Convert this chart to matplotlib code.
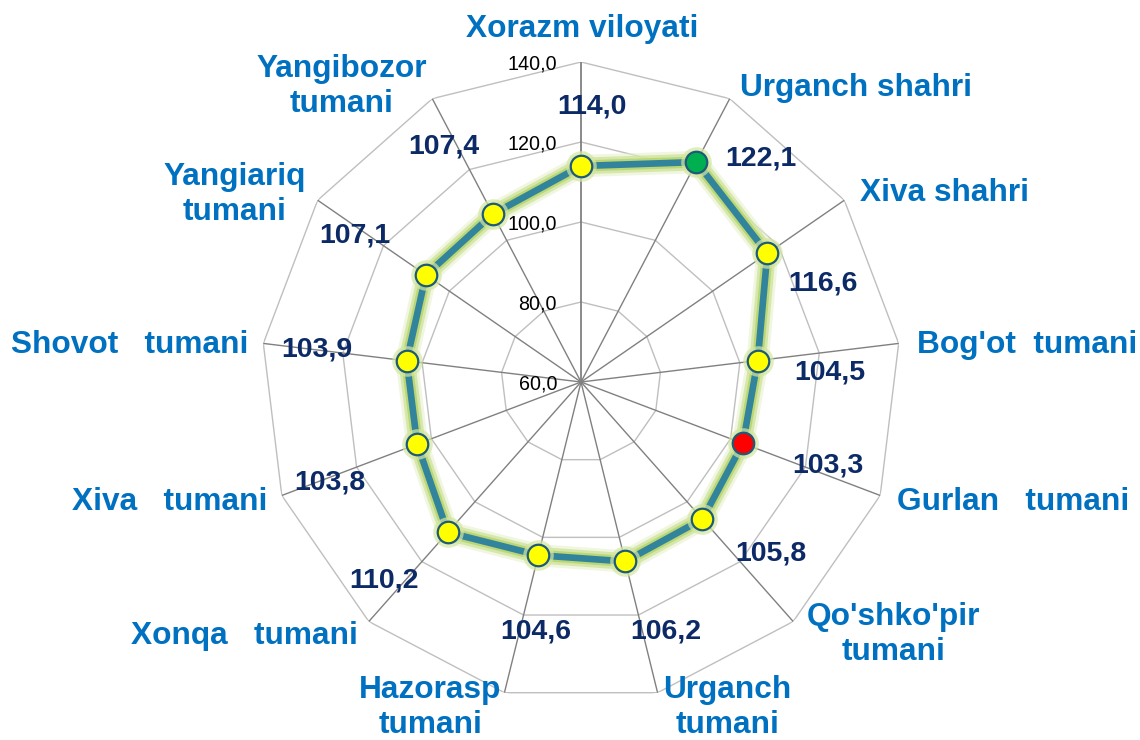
import numpy as np
import matplotlib
matplotlib.use("Agg")
import matplotlib.pyplot as plt
import matplotlib.patheffects as pe

categories = ["Xorazm viloyati", "Urganch shahri", "Xiva shahri", "Bog'ot  tumani",
              "Gurlan   tumani", "Qo'shko'pir\ntumani", "Urganch\ntumani",
              "Hazorasp\ntumani", "Xonqa   tumani", "Xiva   tumani",
              "Shovot   tumani", "Yangiariq\ntumani", "Yangibozor\ntumani"]
values = [114.0, 122.1, 116.6, 104.5, 103.3, 105.8, 106.2, 104.6, 110.2, 103.8,
          103.9, 107.1, 107.4]
ticks = [60, 80, 100, 120, 140]
max_idx = 1   # green marker
min_idx = 4   # red marker

# label placement (pixels, style only)
cat_offsets = [(1, -33, 'center'), (10, -11, 'left'), (16, -7, 'left'), (18, 2, 'left'),
               (17, 7, 'left'), (100, 13, 'center'), (70, 15, 'center'),
               (-74, 15, 'center'), (-11, 14, 'right'), (-14, 7, 'right'),
               (-15, 2, 'right'), (-83, -6, 'center'), (-91, -12, 'center')]
val_offsets = [(11, -59), (64, -4), (56, 30), (72, 12), (85, 22), (68, 34), (41, 70),
               (-3, 76), (-64, 48), (-87, 38), (-90, -11), (-71, -39), (-49, -68)]

W, H = 1140, 740
fig = plt.figure(figsize=(W / 100, H / 100), dpi=100)
cx, cy, R = 581, 382, 320
ax = fig.add_axes([(cx - R) / W, (H - cy - R) / H, 2 * R / W, 2 * R / H], projection='polar')
ax.set_theta_offset(np.pi / 2)
ax.set_theta_direction(-1)
ax.set_ylim(ticks[0], ticks[-1])
ax.grid(False)
ax.set_xticks([])
ax.set_yticks([])
ax.spines['polar'].set_visible(False)
ax.patch.set_alpha(0)

n = len(categories)
theta = np.arange(n) * 2 * np.pi / n
theta_c = np.append(theta, theta[0])

# rings
for t in ticks[1:]:
    ax.plot(theta_c, [t] * (n + 1), color='#bfbfbf', lw=1.0, zorder=1)
# spokes
for i, th in enumerate(theta):
    ax.plot([th, th], [ticks[0], ticks[-1]], color='#808080', lw=1.3 if i == 0 else 1.0, zorder=2)

# tick labels
for t in ticks:
    ax.annotate(f"{t:.1f}".replace('.', ','), xy=(0, t), xytext=(-24, -2),
                textcoords='offset pixels', ha='right', va='center',
                fontsize=14.2, family='Liberation Sans', color='#000000', zorder=3)

# series line with glow
vals_c = np.append(values, values[0])
ax.plot(theta_c, vals_c, color='#31849b', lw=4.8, solid_joinstyle='round', zorder=5,
        path_effects=[pe.Stroke(linewidth=16, foreground='#e6f0cc', alpha=0.6),
                      pe.Stroke(linewidth=12, foreground='#d0e49e', alpha=0.8),
                      pe.Stroke(linewidth=8, foreground='#b8d56e', alpha=0.9),
                      pe.Normal()])

# markers
colors = ['#ffff00'] * n
colors[max_idx] = '#00b050'
colors[min_idx] = '#ff0000'
for th, v, c in zip(theta, values, colors):
    ax.plot([th], [v], marker='o', ms=22, color='#d4e6a0', alpha=0.7, mew=0, zorder=6)
    ax.plot([th], [v], marker='o', ms=15.5, mfc=c, mec='#1f5a78', mew=1.6, zorder=7)

# value labels
for th, v, (dx, dy) in zip(theta, values, val_offsets):
    ax.annotate(f"{v:.1f}".replace('.', ','), xy=(th, v), xytext=(dx, -dy),
                textcoords='offset pixels', ha='center', va='center',
                fontsize=20.5, fontweight='bold', family='Liberation Sans',
                color='#0c2a66', zorder=8)

# category labels
for th, name, (dx, dy, ha) in zip(theta, categories, cat_offsets):
    ax.annotate(name, xy=(th, ticks[-1]), xytext=(dx, -dy),
                textcoords='offset pixels', ha=ha, va='center', multialignment='center',
                fontsize=22.8, fontweight='bold', family='Liberation Sans',
                color='#0070c0', linespacing=1.2, zorder=8, annotation_clip=False)

fig.savefig('out.png', dpi=100, facecolor='white')
